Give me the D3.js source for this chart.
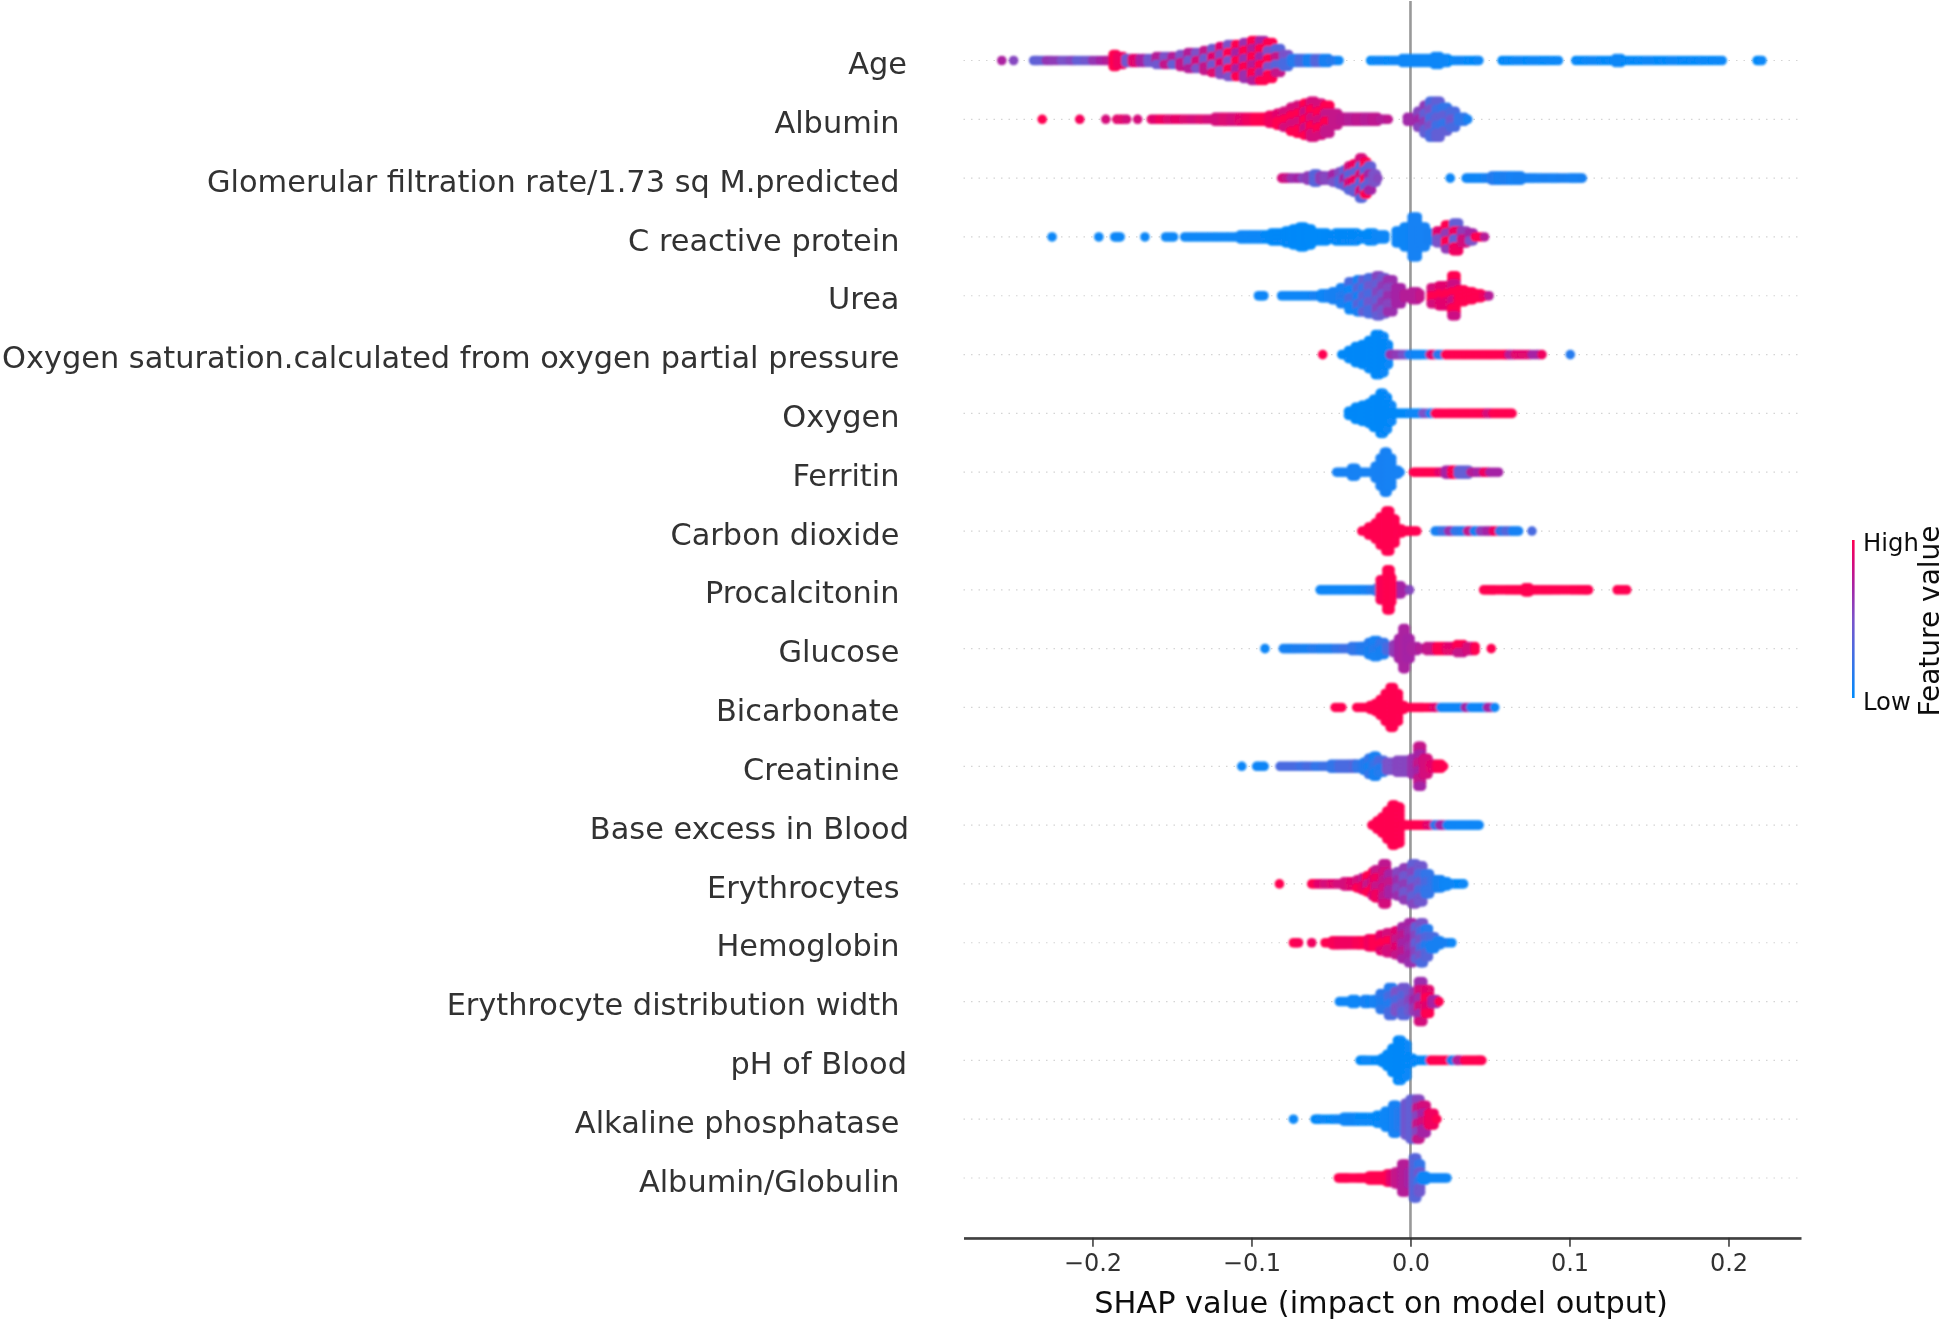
<!DOCTYPE html>
<html><head><meta charset="utf-8">
<script src="https://cdn.jsdelivr.net/npm/d3@7/dist/d3.min.js"></script>
<style>html,body{margin:0;padding:0;background:#fff}svg{display:block}text{font-family:"DejaVu Sans",sans-serif}</style>
</head><body><svg id="chart" width="1946" height="1322"></svg>
<script>
// Each bin: [SHAP value, stacked levels in the bin, feature value, optional second feature value]
const age=[[-.257,1,.72],[-.2496,1,.55],[-.237,1,.38],[-.234,1,.4],[-.229,1,.62],[-.225,1,.6],[-.2195,1,.5],[-.214,1,.55],[-.21,1,.4],[-.205,1,.45],[-.2,1,.62],[-.195,1,.7],[-.191,1,.75],[-.187,4,1],[-.184,3,.95],[-.179,2,.45],[-.175,2,.9],[-.17,2,.5,.7],[-.165,2,.45,.7],[-.16,3,.45,.75],[-.155,3,.5,.8],[-.15,3,.4,.75],[-.145,4,.5,.8],[-.14,5,.45,.75],[-.135,5,.5,.85],[-.13,6,.45,.8],[-.125,7,.45,.9],[-.12,8,.55,.9],[-.115,9,.5,1],[-.11,9,.7,1],[-.105,10,.65,1],[-.1,11,.75,1],[-.095,11,.7,1],[-.09,10,.5,1],[-.085,7,.35,.8],[-.08,4,.3,.5],[-.075,2,.15,.3],[-.07,2,.1,.3],[-.065,2,.1,.25],[-.06,2,.15,.35],[-.055,2,.1,.3],[-.05,1,.15],[-.045,1,.05],[-.025,1,.03],[-.02,1,.05],[-.015,1,.03],[-.01,1,.06],[-.005,2,.05],[0,2,.04],[.005,2,.05],[.01,2,.04],[.015,3,.05],[.02,2,.04],[.025,1,.03],[.03,1,.05],[.035,1,.03],[.04,1,.03],[.043,1,.04],[.0576,1,.03],[.062,1,.03],[.067,1,.04],[.072,1,.03],[.077,1,.04],[.082,1,.03],[.087,1,.03],[.093,1,.03],[.104,1,.03],[.109,1,.03],[.114,1,.04],[.119,1,.03],[.124,1,.03],[.129,2,.04],[.134,1,.03],[.139,1,.03],[.144,1,.03],[.149,1,.04],[.154,1,.03],[.159,1,.03],[.164,1,.04],[.169,1,.03],[.174,1,.03],[.179,1,.03],[.184,1,.03],[.19,1,.03],[.196,1,.03],[.218,1,.03],[.221,1,.03]];
const albumin=[[-.2316,1,1],[-.208,1,.97],[-.1916,1,.85],[-.1847,1,.9],[-.1785,1,.85],[-.1716,1,.85],[-.163,1,.9],[-.158,1,.95],[-.153,1,.88],[-.148,1,.92],[-.143,1,.88],[-.138,1,.85],[-.133,1,.88],[-.128,1,.85],[-.123,2,.85],[-.118,2,.88],[-.113,2,.85],[-.108,2,.9],[-.103,2,.95],[-.098,2,1],[-.093,2,1],[-.089,3,.95],[-.084,4,.9,1],[-.08,5,1,.85],[-.0755,7,.85,1],[-.0715,8,1,.85],[-.067,9,1,.82],[-.063,10,1,.85],[-.0585,9,.85,1],[-.054,8,.8,1],[-.049,4,.8],[-.044,2,.78],[-.039,2,.75],[-.034,2,.78],[-.029,2,.75],[-.024,2,.78],[-.019,1,.75],[-.014,1,.78],[-.002,2,.68],[.0045,5,.68,.55],[.0085,8,.6,.4],[.012,10,.5,.3],[.016,10,.4,.25],[.02,7,.4,.2],[.025,5,.3,.45],[.03,2,.2],[.036,1,.08]];
const gfr=[[-.081,1,.85],[-.078,1,.8],[-.075,1,.65],[-.071,1,.7],[-.068,1,.55],[-.065,2,.6],[-.061,3,.35],[-.057,2,.6],[-.054,2,.55],[-.049,3,.5,.7],[-.045,4,.55,.35],[-.042,5,.7,.4],[-.039,7,.85,.35],[-.036,8,.4,.95],[-.032,11,.85,.35],[-.029,9,.35,1],[-.0265,7,.4,.7],[-.0235,3,.5],[-.0205,1,.55],[.025,1,.05],[.035,1,.06],[.039,1,.06],[.043,1,.05],[.047,1,.1],[.051,2,.15],[.055,2,.1],[.059,2,.12],[.063,2,.08],[.067,2,.1],[.071,1,.1],[.075,1,.08],[.079,1,.08],[.084,1,.1],[.089,1,.08],[.094,1,.1],[.1,1,.08],[.104,1,.08],[.108,1,.1]];
const crp=[[-.2254,1,.04],[-.196,1,.04],[-.186,1,.04],[-.1826,1,.04],[-.167,1,.04],[-.154,1,.04],[-.149,1,.04],[-.142,1,.04],[-.137,1,.04],[-.132,1,.04],[-.127,1,.04],[-.122,1,.04],[-.117,1,.04],[-.112,1,.04],[-.107,2,.04],[-.102,2,.04],[-.097,2,.04],[-.092,2,.03],[-.0875,3,.03],[-.083,3,.03],[-.0785,4,.03],[-.074,5,.02],[-.0697,6,.02],[-.065,5,.02],[-.061,3,.02],[-.056,3,.02],[-.051,2,.03],[-.047,3,.03],[-.042,3,.03],[-.037,3,.03],[-.032,2,.03],[-.0266,3,.03],[-.021,2,.04],[-.016,2,.04],[-.009,4,.05],[-.004,6,.06],[.001,11,.08],[.006,6,.08],[.011,3,.1],[.0166,4,.5,.9],[.022,7,1,.6],[.027,8,.95,.4],[.032,4,.6,.85],[.037,3,.5,.7],[.0407,1,1],[.0466,1,.75]];
const urea=[[-.0956,1,.05],[-.0922,1,.05],[-.081,1,.05],[-.076,1,.05],[-.071,1,.05],[-.066,1,.05],[-.061,1,.08],[-.056,2,.05],[-.052,2,.08],[-.049,3,.1],[-.044,5,.08,.15],[-.0387,8,.05,.3],[-.0335,9,.1,.35],[-.03,9,.2,.4],[-.0266,10,.3,.45],[-.0214,11,.4,.55],[-.018,10,.45,.6],[-.0145,9,.55,.65],[-.0093,5,.7],[-.004,2,.75],[.001,3,.75],[.006,2,.8],[.013,5,.85,1],[.018,6,1,.9],[.022,6,.9,1],[.026,11,.82,1],[.03,4,1],[.0356,3,1],[.0407,2,1],[.046,1,.95],[.0494,1,.75]];
const oxygenSaturation=[[-.0552,1,1],[-.0432,1,.03],[-.039,3,.03],[-.0348,5,.03],[-.0306,6,.03],[-.0264,8,.03],[-.0222,11,.03],[-.018,10,.03],[-.016,6,.03],[-.0128,1,.65],[-.009,1,.6],[-.005,1,.5],[-.001,1,.1],[.003,1,.05],[.007,1,.05],[.0124,1,.9],[.017,1,.15],[.022,1,1],[.026,1,1],[.03,1,1],[.034,1,1],[.038,1,1],[.042,1,1],[.046,1,1],[.05,1,1],[.054,1,1],[.0585,1,1],[.062,1,.75],[.066,1,.9],[.071,1,.9],[.0764,1,.7],[.0827,1,.95],[.1005,1,.15]];
const oxygen=[[-.039,2,.03],[-.0348,4,.03],[-.0306,5,.03],[-.0264,6,.03],[-.0233,8,.03],[-.0191,11,.03],[-.0159,9,.03],[-.0138,5,.03],[-.0107,1,.03],[-.007,1,.03],[-.003,1,.03],[.001,1,.04],[.005,1,.04],[.008,1,.5],[.0124,1,.05],[.0155,1,1],[.0195,1,1],[.024,1,1],[.028,1,1],[.032,1,1],[.036,1,1],[.04,1,1],[.044,1,1],[.048,1,.85],[.052,1,1],[.056,1,1],[.06,1,1],[.0639,1,1]];
const ferritin=[[-.0464,1,.08],[-.042,1,.08],[-.037,3,.08],[-.033,1,.08],[-.028,1,.08],[-.0222,4,.08],[-.0191,8,.08],[-.0164,11,.09],[-.0138,8,.08],[-.0107,2,.08],[-.0065,1,.08],[.0019,1,1],[.006,1,1],[.01,1,1],[.014,1,1],[.018,1,.9],[.022,2,.7,.95],[.026,2,.55,1],[.03,2,.4,.75],[.034,2,.7,.4],[.038,1,.75],[.042,1,.7],[.046,1,.95],[.05,1,.7],[.0554,1,.7]];
const carbonDioxide=[[-.0306,1,1],[-.0264,3,1],[-.0222,5,1],[-.0191,8,1],[-.0155,11,1],[-.0117,7,1],[-.0086,2,1],[-.004,1,1],[0,1,1],[.004,1,1],[.0155,1,.1],[.02,1,.25],[.024,1,.65],[.028,1,.2],[.032,1,.15],[.036,1,.8],[.04,1,.1],[.044,1,.6],[.048,1,.7],[.052,1,.95],[.056,1,.2],[.06,1,.35],[.064,1,.08],[.068,1,.08],[.0764,1,.3]];
const procalcitonin=[[-.0568,1,.05],[-.053,1,.05],[-.049,1,.05],[-.045,1,.05],[-.041,1,.05],[-.037,1,.05],[-.033,1,.06],[-.029,1,.08],[-.025,1,.15],[-.0212,2,.2],[-.0086,3,.7],[-.0044,1,.7],[-.0006,1,.55],[-.0191,6,.98],[-.0149,11,1],[-.0117,7,1],[.046,1,1],[.05,1,1],[.0533,1,1],[.0596,1,1],[.064,1,1],[.068,1,1],[.072,2,1],[.076,1,1],[.08,1,1],[.0845,1,1],[.089,1,1],[.0942,1,1],[.1005,1,1],[.105,1,1],[.109,1,1],[.112,1,1],[.13,1,1],[.136,1,1]];
const glucose=[[-.0915,1,.05],[-.08,1,.08],[-.076,1,.1],[-.072,1,.12],[-.067,1,.1],[-.062,1,.15],[-.057,1,.12],[-.052,1,.12],[-.047,1,.2],[-.042,1,.25],[-.037,2,.2],[-.0317,2,.15],[-.0296,2,.15],[-.0264,4,.1,.15],[-.0233,5,.08,.15],[-.0191,4,.1,.2],[-.0149,2,.3],[-.0107,3,.6],[-.0075,6,.7],[-.0048,11,.72],[-.0023,6,.7],[.0008,2,.72],[.006,1,.75],[.0103,2,.8],[.0166,2,1,.8],[.0229,2,.7,.9],[.0292,3,1,.8],[.0355,2,.85],[.0407,2,1],[.0508,1,1]];
const bicarbonate=[[-.0474,1,1],[-.0432,1,1],[-.0338,1,1],[-.0296,1,1],[-.0254,2,1],[-.0222,3,1],[-.0191,5,1],[-.0159,8,1],[-.0128,11,1],[-.0096,8,1],[-.0065,2,1],[-.003,1,1],[.001,1,1],[.005,1,1],[.0082,1,1],[.0145,1,.9],[.019,1,.06],[.023,1,.05],[.027,1,.05],[.031,1,.05],[.0345,1,.7],[.038,1,.05],[.042,1,.05],[.046,1,.05],[.0485,1,.7],[.053,1,.05]];
const creatinine=[[-.1061,1,.05],[-.0967,1,.06],[-.092,1,.06],[-.082,1,.3],[-.0757,1,.3],[-.0694,1,.25],[-.065,1,.3],[-.06,1,.2],[-.055,1,.25],[-.05,2,.2],[-.045,2,.3],[-.04,2,.3],[-.0359,2,.35],[-.0338,2,.2],[-.0296,3,.15],[-.0264,5,.1,.2],[-.0233,6,.1,.2],[-.0201,4,.15,.3],[-.0149,3,.5],[-.0086,4,.55],[-.0034,4,.55],[.0008,5,.65],[.0046,11,.8,.7],[.0082,5,.85],[.0124,2,.9],[.0166,2,1],[.0208,1,1]];
const baseExcess=[[-.0243,1,1],[-.0212,3,1],[-.018,5,1],[-.0149,8,1],[-.0117,11,1],[-.0086,10,1],[-.0055,1,1],[-.002,1,1],[.002,1,1],[.006,1,1],[.0105,1,.9],[.015,1,.2],[.0185,1,.7],[.023,1,.05],[.027,1,.05],[.031,1,.05],[.035,1,.05],[.039,1,.05],[.0432,1,.05]];
const erythrocytes=[[-.0824,1,1],[-.0621,1,1],[-.058,1,.9],[-.054,1,.85],[-.05,1,.9],[-.046,1,.85],[-.042,2,.85],[-.038,2,.9],[-.0338,3,.85,1],[-.0305,4,.95,.8],[-.0275,5,1,.8],[-.024,7,.85,1],[-.0222,8,.8,.95],[-.0174,11,.85,.78],[-.0138,6,.7,.8],[-.0086,7,.65,.55],[-.0044,9,.6,.45],[.0008,11,.55,.4],[.005,10,.45,.3],[.0092,6,.3,.2],[.0134,3,.2],[.0166,3,.1],[.0208,2,.05],[.0245,1,.05],[.029,1,.03],[.0334,1,.03]];
const hemoglobin=[[-.0736,1,1],[-.0704,1,.98],[-.0621,1,.95],[-.0537,1,1],[-.049,2,.98],[-.045,2,.95],[-.04,2,.95],[-.0338,2,.98],[-.0296,2,1],[-.0265,3,.95],[-.0233,3,1],[-.0191,5,1,.9],[-.0149,6,.85,1],[-.0096,7,.8,.9],[-.0055,9,.7,.78],[-.0012,11,.65,.7],[.0029,9,.4,.55],[.0061,11,.3,.5],[.0092,8,.15,.35],[.0124,4,.1,.3],[.0166,2,.1],[.0197,1,.1],[.026,1,.05]];
const rbcWidth=[[-.0447,1,.05],[-.041,1,.05],[-.037,2,.05],[-.033,1,.05],[-.029,2,.08],[-.0254,1,.05],[-.0233,2,.08],[-.0191,5,.12,.18],[-.0138,8,.15,.3],[-.0096,6,.3,.5],[-.0055,8,.45,.35],[-.0012,6,.55,.45],[.0019,6,.6,.7],[.005,11,.85,.65],[.0092,7,.9,1],[.0134,2,.7],[.018,1,1]];
const phBlood=[[-.0317,1,.03],[-.0279,1,.03],[-.0222,1,.03],[-.018,2,.03],[-.0149,4,.03],[-.0117,7,.03],[-.0082,11,.03],[-.0044,9,.03],[-.0013,2,.03],[.003,1,.03],[.0082,1,.03],[.0125,1,1],[.0165,1,1],[.021,1,1],[.0255,1,.1],[.03,1,1],[.0292,1,.75],[.034,1,1],[.038,1,1],[.042,1,1],[.0449,1,1]];
const alkalinePhosphatase=[[-.0736,1,.03],[-.06,1,.03],[-.0568,1,.03],[-.0505,1,.03],[-.046,1,.06],[-.042,2,.05],[-.0375,2,.06],[-.033,2,.03],[-.0275,2,.03],[-.0212,3,.03],[-.0159,5,.05],[-.0111,8,.08],[-.0075,5,.15],[-.0034,9,.45],[-.0002,11,.4],[.0038,11,.8,.55],[.0071,8,.85,.7],[.0113,4,.95],[.0166,1,1]];
const albuminGlobulin=[[-.0453,1,1],[-.042,1,1],[-.039,1,1],[-.0338,1,1],[-.03,1,1],[-.026,2,1],[-.022,2,1],[-.018,2,1],[-.0149,3,1],[-.0125,3,.9],[-.0096,4,.8],[-.0055,8,.75],[-.0012,4,.7],[.0019,11,.35],[.005,8,.2,.45],[.0071,2,.05],[.011,1,.05],[.015,1,.05],[.019,1,.05],[.0229,1,.05]];

const featureNames=["Age","Albumin","Glomerular filtration rate/1.73 sq M.predicted","C reactive protein","Urea","Oxygen saturation.calculated from oxygen partial pressure","Oxygen","Ferritin","Carbon dioxide","Procalcitonin","Glucose","Bicarbonate","Creatinine","Base excess in Blood","Erythrocytes","Hemoglobin","Erythrocyte distribution width","pH of Blood","Alkaline phosphatase","Albumin/Globulin"];
const featureBins=[age,albumin,gfr,crp,urea,oxygenSaturation,oxygen,ferritin,carbonDioxide,procalcitonin,glucose,bicarbonate,creatinine,baseExcess,erythrocytes,hemoglobin,rbcWidth,phBlood,alkalinePhosphatase,albuminGlobulin];
const xTicks=[-.2,-.1,0,.1,.2];
const colorStops=[0,.3,.5,.7,.85,1];
const colorValues=["#008bfb","#4a6be0","#7b52c9","#a524a5","#d40a7c","#ff0051"];

const svg=d3.select("#chart");
const x=d3.scaleLinear().domain([-.2811,.2456]).range([963.5,1801]);
const y=d3.scalePoint().domain(featureNames).range([60.5,1178]);
const color=d3.scaleLinear().domain(colorStops).range(colorValues).interpolate(d3.interpolateRgb);
const stackStep=4, dotR=4.8, axisY=1237.7, binReach=.0066;

const defs=svg.append("defs");
defs.append("filter").attr("id","soft").append("feGaussianBlur").attr("stdDeviation",.8);
defs.append("filter").attr("id","softText").append("feGaussianBlur").attr("stdDeviation",.35);
const grad=defs.append("linearGradient").attr("id","legendGrad").attr("x1",0).attr("x2",0).attr("y1",1).attr("y2",0);
colorStops.forEach((s,i)=>grad.append("stop").attr("offset",s).attr("stop-color",colorValues[i]));

// row guides and zero line
svg.append("g").selectAll("line").data(featureNames).join("line")
  .attr("x1",x.range()[0]).attr("x2",x.range()[1]).attr("y1",d=>y(d)).attr("y2",d=>y(d))
  .attr("stroke","#d4d4d4").attr("stroke-width",1.2).attr("stroke-dasharray","1.5 6");
svg.append("line").attr("x1",x(0)).attr("x2",x(0)).attr("y1",1).attr("y2",axisY)
  .attr("stroke","#999").attr("stroke-width",2.6);

// points: a bin is a small cluster of dots that covers the width up to the next bin
const points=[];
featureNames.forEach((name,r)=>{
  const bins=featureBins[r];
  bins.forEach((b,bi)=>{
    const [v,n,a,c]=b;
    const next=bins[bi+1];
    const gap=next?next[0]-v:0;
    const width=gap>0&&gap<=binReach?gap:0;
    const slots=width?[0,1/3,2/3]:[0];
    for(let k=0;k<n;k++){
      const fv=(c!==undefined&&((k>>1)+bi)%2)?c:a;
      slots.forEach(s=>points.push({v:v+width*s,row:name,off:(k-(n-1)/2)*stackStep,fv}));
    }
  });
});
svg.append("g").attr("filter","url(#soft)").selectAll("circle").data(points).join("circle")
  .attr("cx",d=>x(d.v)).attr("cy",d=>y(d.row)+d.off).attr("r",dotR).attr("fill",d=>color(d.fv));

// labels
const labels=svg.append("g").attr("filter","url(#softText)");
labels.selectAll("text").data(featureNames).join("text")
  .attr("x",d=>d==="Age"?907:(d==="Base excess in Blood"?909:(d==="pH of Blood"?907:899.5)))
  .attr("y",d=>y(d)+3.3).attr("dy",".34em").attr("text-anchor","end")
  .attr("font-size",30.4).attr("fill","#333").text(d=>d);

// x axis
const ax=svg.append("g").attr("transform",`translate(0,${axisY})`).attr("filter","url(#softText)")
  .call(d3.axisBottom(x).tickValues(xTicks).tickFormat(d3.format(".1f")).tickSize(9).tickSizeOuter(0));
ax.select(".domain").attr("stroke","#333").attr("stroke-width",2.5);
ax.selectAll(".tick line").attr("stroke","#333").attr("stroke-width",1.5);
ax.selectAll(".tick text").attr("font-size",24).attr("font-family","DejaVu Sans").attr("fill","#333").attr("y",16);
labels.append("text").attr("x",1381).attr("y",1302).attr("dy",".36em").attr("text-anchor","middle")
  .attr("font-size",30.4).attr("fill","#111").text("SHAP value (impact on model output)");

// legend
svg.append("rect").attr("x",1852).attr("y",540).attr("width",2.6).attr("height",158).attr("fill","url(#legendGrad)");
labels.append("text").attr("x",1863).attr("y",542).attr("dy",".36em").attr("font-size",24.3).attr("fill","#111").text("High");
labels.append("text").attr("x",1863).attr("y",701).attr("dy",".36em").attr("font-size",24.3).attr("fill","#111").text("Low");
labels.append("text").attr("transform","translate(1939,621) rotate(-90)").attr("text-anchor","middle")
  .attr("font-size",28).attr("fill","#111").text("Feature value");
</script></body></html>
